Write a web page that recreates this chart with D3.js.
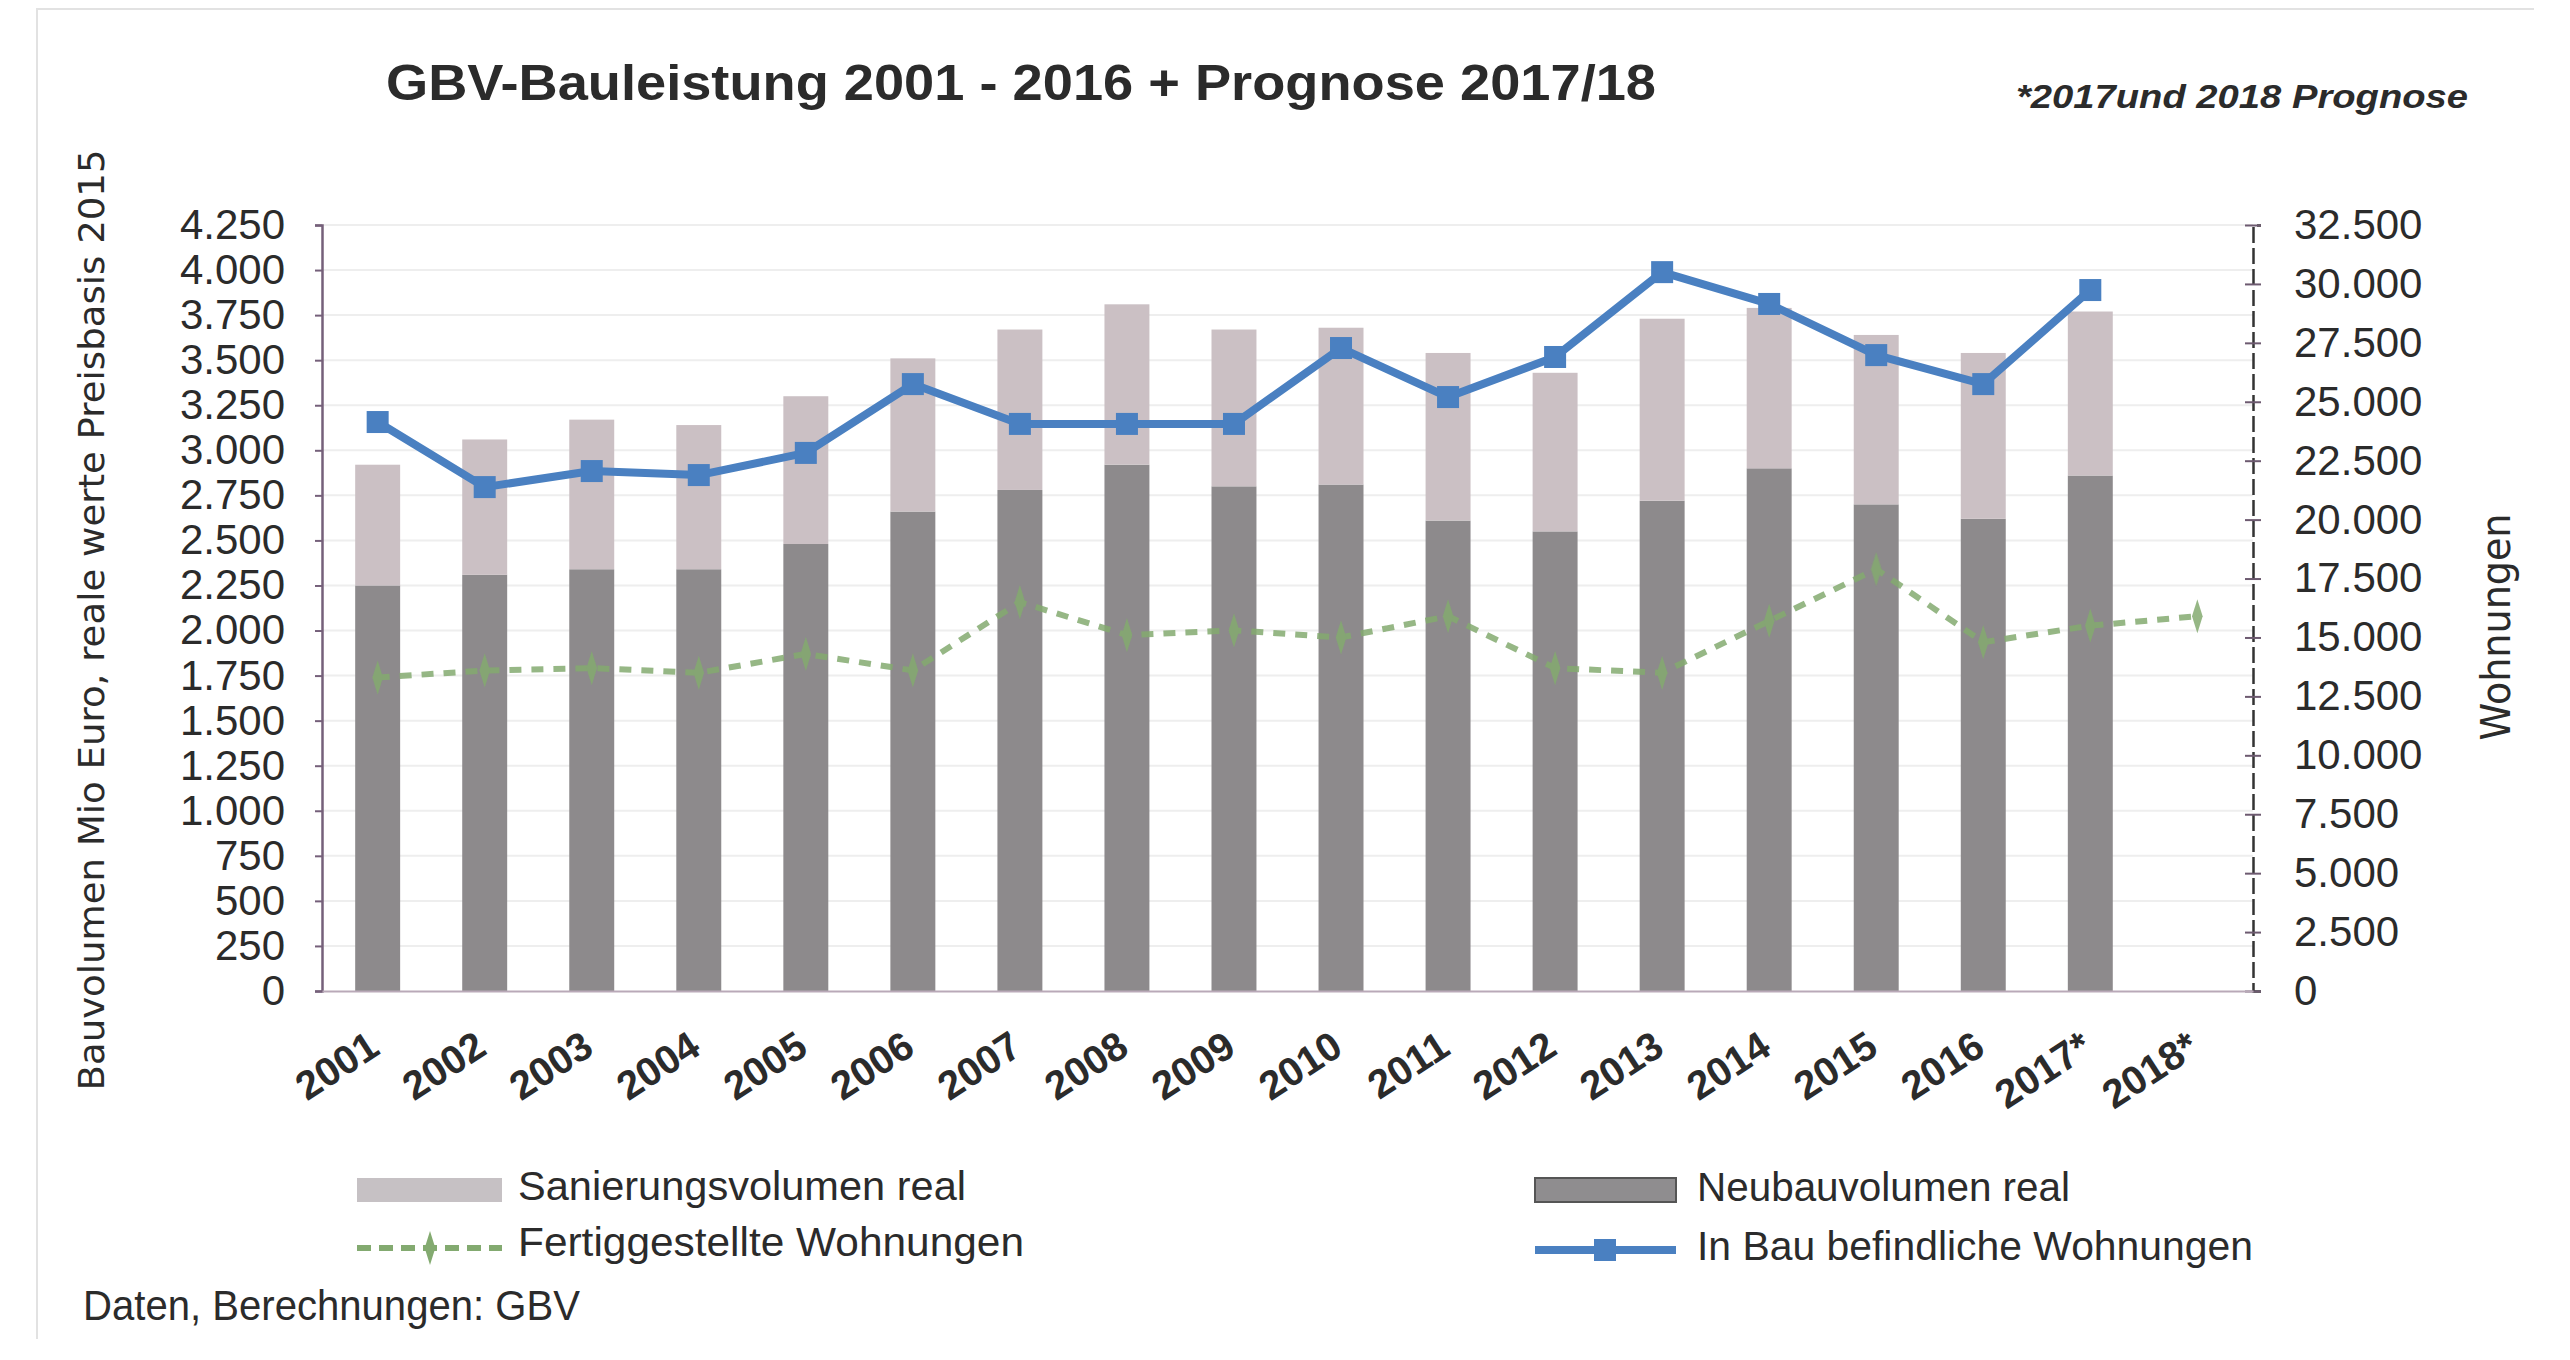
<!DOCTYPE html>
<html>
<head>
<meta charset="utf-8">
<script src="https://d3js.org/d3.v7.min.js"></script>
<style>
body { margin: 0; background: #fff; }
text { font-family: "Liberation Sans", Arial, sans-serif; fill: #2b2b2b; }
</style>
</head>
<body>
<div id="chart"></div>
<script>

// values
const years = ["2001", "2002", "2003", "2004", "2005", "2006", "2007", "2008", "2009",
               "2010", "2011", "2012", "2013", "2014", "2015", "2016", "2017*", "2018*"];

const neubau    = [2250, 2310, 2340, 2340, 2480, 2660, 2780, 2920, 2800, 2810, 2610, 2550, 2720, 2900, 2700, 2620, 2860, null];
const sanierung = [670, 750, 830, 800, 820, 850, 890, 890, 870, 870, 930, 880, 1010, 890, 940, 920, 910, null];

const inBau  = [24140, 21380, 22060, 21890, 22830, 25750, 24060, 24060, 24060, 27280, 25200, 26900, 30500, 29150, 26980, 25750, 29740, null];
const fertig = [13300, 13600, 13700, 13500, 14300, 13600, 16500, 15100, 15300, 15000, 15900, 13700, 13500, 15700, 17900, 14800, 15500, 15900];

const leftTicks  = [0, 250, 500, 750, 1000, 1250, 1500, 1750, 2000, 2250, 2500, 2750, 3000, 3250, 3500, 3750, 4000, 4250];
const rightTicks = [0, 2500, 5000, 7500, 10000, 12500, 15000, 17500, 20000, 22500, 25000, 27500, 30000, 32500];

const width = 2570, height = 1360;
let plot = {left: 322, right: 2253, top: 225, bottom: 991};

const colNeubau = "#8d8a8c",
      colSanierung = "#cbc0c4",
      colBlue = "#4a80c1",
      colGreen = "#83aa70";

const de = d3.formatLocale({decimal: ",", thousands: ".", grouping: [3], currency: ["", " €"]});
const fmt = de.format(",d");

const svg = d3.select("#chart")
    .append("svg")
    .attr("width", width)
    .attr("height", height);

// scan edge
svg.append("path")
    .attr("d", "M37,1339 L37,9 L2534,9")
    .attr("fill", "none")
    .attr("stroke", "#e2e2e2")
    .attr("stroke-width", 2);

const x = d3.scaleBand()
    .domain(years)
    .range([plot.left, plot.right])
    .paddingInner(0.58)
    .paddingOuter(0.31);

const yL = d3.scaleLinear().domain([0, 4250]).range([plot.bottom, plot.top]);
const yR = d3.scaleLinear().domain([0, 32500]).range([plot.bottom, plot.top]);

const cx = d => x(d) + x.bandwidth() / 2;

// faint grid
svg.append("g")
    .selectAll("line")
    .data(leftTicks.slice(1))
    .enter()
    .append("line")
    .attr("x1", plot.left)
    .attr("x2", plot.right)
    .attr("y1", d => yL(d))
    .attr("y2", d => yL(d))
    .attr("stroke", "#eeeeee")
    .attr("stroke-width", 2);

// stacked bars
const barData = years.map((yr, i) => ({year: yr, neu: neubau[i], san: sanierung[i]}))
    .filter(d => d.neu != null);

svg.append("g")
    .selectAll("rect")
    .data(barData)
    .enter()
    .append("rect")
    .attr("x", d => x(d.year))
    .attr("y", d => yL(d.neu))
    .attr("width", x.bandwidth())
    .attr("height", d => yL(0) - yL(d.neu))
    .attr("fill", colNeubau);

svg.append("g")
    .selectAll("rect")
    .data(barData)
    .enter()
    .append("rect")
    .attr("x", d => x(d.year))
    .attr("y", d => yL(d.neu + d.san))
    .attr("width", x.bandwidth())
    .attr("height", d => yL(d.neu) - yL(d.neu + d.san))
    .attr("fill", colSanierung);

// axes
const leftAxis = svg.append("g")
    .attr("transform", `translate(${plot.left},0)`)
    .call(d3.axisLeft(yL).tickValues(leftTicks).tickFormat(fmt).tickSize(7).tickPadding(30));
leftAxis.select(".domain").attr("stroke", "#75607a").attr("stroke-width", 2.5);
leftAxis.selectAll(".tick line").attr("stroke", "#75607a").attr("stroke-width", 2);
leftAxis.selectAll("text")
    .style("font-size", "42px")
    .style("font-family", "'Liberation Sans', Arial, sans-serif")
    .attr("fill", "#262626");

const rightAxis = svg.append("g")
    .attr("transform", `translate(${plot.right},0)`)
    .call(d3.axisRight(yR).tickValues(rightTicks).tickFormat(fmt).tickSize(8).tickPadding(33));
rightAxis.select(".domain").attr("stroke", "#333").attr("stroke-width", 2.5).attr("stroke-dasharray", "16,5");
rightAxis.selectAll(".tick line").attr("x1", -8).attr("stroke", "#6d5a70").attr("stroke-width", 2);
rightAxis.selectAll("text")
    .style("font-size", "42px")
    .style("font-family", "'Liberation Sans', Arial, sans-serif")
    .attr("fill", "#262626");

const bottomAxis = svg.append("g")
    .attr("transform", `translate(0,${plot.bottom})`)
    .call(d3.axisBottom(x).tickSize(0));
bottomAxis.select(".domain").attr("stroke", "#b9a9b8").attr("stroke-width", 2);
bottomAxis.selectAll("text")
    .attr("x", 0).attr("y", 0).attr("dy", 0)
    .attr("text-anchor", "end")
    .attr("transform", "translate(4,62) rotate(-33)")
    .style("font-size", "40px")
    .style("font-weight", "bold")
    .style("font-family", "'Liberation Sans', Arial, sans-serif")
    .attr("fill", "#222");

// Fertiggestellte Wohnungen
const greenPts = years.map((yr, i) => ({year: yr, v: fertig[i]})).filter(d => d.v != null);

const greenG = svg.append("g").attr("opacity", 0.85);

greenG.append("path")
    .datum(greenPts)
    .attr("fill", "none")
    .attr("stroke", colGreen)
    .attr("stroke-width", 6)
    .attr("stroke-dasharray", "12,10")
    .attr("d", d3.line().x(d => cx(d.year)).y(d => yR(d.v)));

greenG.selectAll("path.pt")
    .data(greenPts)
    .enter()
    .append("path")
    .attr("class", "pt")
    .attr("transform", d => `translate(${cx(d.year)},${yR(d.v)}) scale(0.7,1.3)`)
    .attr("d", d3.symbol(d3.symbolDiamond, 200))
    .attr("fill", colGreen);

// In Bau befindliche Wohnungen
const bluePts = years.map((yr, i) => ({year: yr, v: inBau[i]})).filter(d => d.v != null);

svg.append("path")
    .datum(bluePts)
    .attr("fill", "none")
    .attr("stroke", colBlue)
    .attr("stroke-width", 8)
    .attr("stroke-linejoin", "round")
    .attr("d", d3.line().x(d => cx(d.year)).y(d => yR(d.v)));

svg.append("g")
    .selectAll("rect")
    .data(bluePts)
    .enter()
    .append("rect")
    .attr("x", d => cx(d.year) - 11)
    .attr("y", d => yR(d.v) - 11)
    .attr("width", 22)
    .attr("height", 22)
    .attr("fill", colBlue);

// titles
svg.append("text")
    .attr("x", 386)
    .attr("y", 100)
    .attr("textLength", 1270)
    .attr("lengthAdjust", "spacingAndGlyphs")
    .style("font-family", "'Liberation Sans Narrow', 'Liberation Sans', Arial, sans-serif")
    .style("font-size", "50px")
    .style("font-weight", "bold")
    .attr("fill", "#262626")
    .text("GBV-Bauleistung 2001 - 2016 + Prognose 2017/18");

svg.append("text")
    .attr("x", 2016)
    .attr("y", 108)
    .attr("textLength", 452)
    .attr("lengthAdjust", "spacingAndGlyphs")
    .style("font-family", "'Liberation Sans Narrow', 'Liberation Sans', Arial, sans-serif")
    .style("font-size", "34px")
    .style("font-weight", "bold")
    .style("font-style", "italic")
    .attr("fill", "#262626")
    .text("*2017und 2018 Prognose");

svg.append("text")
    .attr("transform", "translate(104,620) rotate(-90)")
    .attr("text-anchor", "middle")
    .attr("textLength", 941)
    .attr("lengthAdjust", "spacingAndGlyphs")
    .style("font-family", "'DejaVu Sans', sans-serif")
    .style("font-size", "36px")
    .attr("fill", "#3a3a3a")
    .text("Bauvolumen Mio Euro, reale werte Preisbasis 2015");

svg.append("text")
    .attr("transform", "translate(2510,627) rotate(-90)")
    .attr("text-anchor", "middle")
    .attr("textLength", 227)
    .attr("lengthAdjust", "spacingAndGlyphs")
    .style("font-family", "'DejaVu Sans', sans-serif")
    .style("font-size", "40px")
    .attr("fill", "#3a3a3a")
    .text("Wohnungen");

// legend
const legend = svg.append("g");

legend.append("rect")
    .attr("x", 357).attr("y", 1178).attr("width", 145).attr("height", 24)
    .attr("fill", "#c6c1c4");
legend.append("text")
    .attr("x", 518).attr("y", 1200)
    .attr("textLength", 448).attr("lengthAdjust", "spacingAndGlyphs")
    .style("font-size", "40px")
    .text("Sanierungsvolumen real");

legend.append("line")
    .attr("x1", 357).attr("x2", 502).attr("y1", 1248).attr("y2", 1248)
    .attr("stroke", colGreen).attr("stroke-width", 6).attr("stroke-dasharray", "14,8");
legend.append("path")
    .attr("transform", "translate(430,1248) scale(0.7,1.3)")
    .attr("d", d3.symbol(d3.symbolDiamond, 200))
    .attr("fill", colGreen);
legend.append("text")
    .attr("x", 518).attr("y", 1256)
    .attr("textLength", 506).attr("lengthAdjust", "spacingAndGlyphs")
    .style("font-size", "40px")
    .text("Fertiggestellte Wohnungen");

legend.append("rect")
    .attr("x", 1535).attr("y", 1178).attr("width", 141).attr("height", 24)
    .attr("fill", "#8f8d8f").attr("stroke", "#555").attr("stroke-width", 2);
legend.append("text")
    .attr("x", 1697).attr("y", 1201)
    .attr("textLength", 373).attr("lengthAdjust", "spacingAndGlyphs")
    .style("font-size", "40px")
    .text("Neubauvolumen real");

legend.append("line")
    .attr("x1", 1535).attr("x2", 1676).attr("y1", 1250).attr("y2", 1250)
    .attr("stroke", colBlue).attr("stroke-width", 8);
legend.append("rect")
    .attr("x", 1594).attr("y", 1239).attr("width", 22).attr("height", 22)
    .attr("fill", colBlue);
legend.append("text")
    .attr("x", 1697).attr("y", 1260)
    .attr("textLength", 556).attr("lengthAdjust", "spacingAndGlyphs")
    .style("font-size", "40px")
    .text("In Bau befindliche Wohnungen");

svg.append("text")
    .attr("x", 83).attr("y", 1320)
    .attr("textLength", 497).attr("lengthAdjust", "spacingAndGlyphs")
    .style("font-size", "42px")
    .text("Daten, Berechnungen: GBV");

</script>
</body>
</html>
